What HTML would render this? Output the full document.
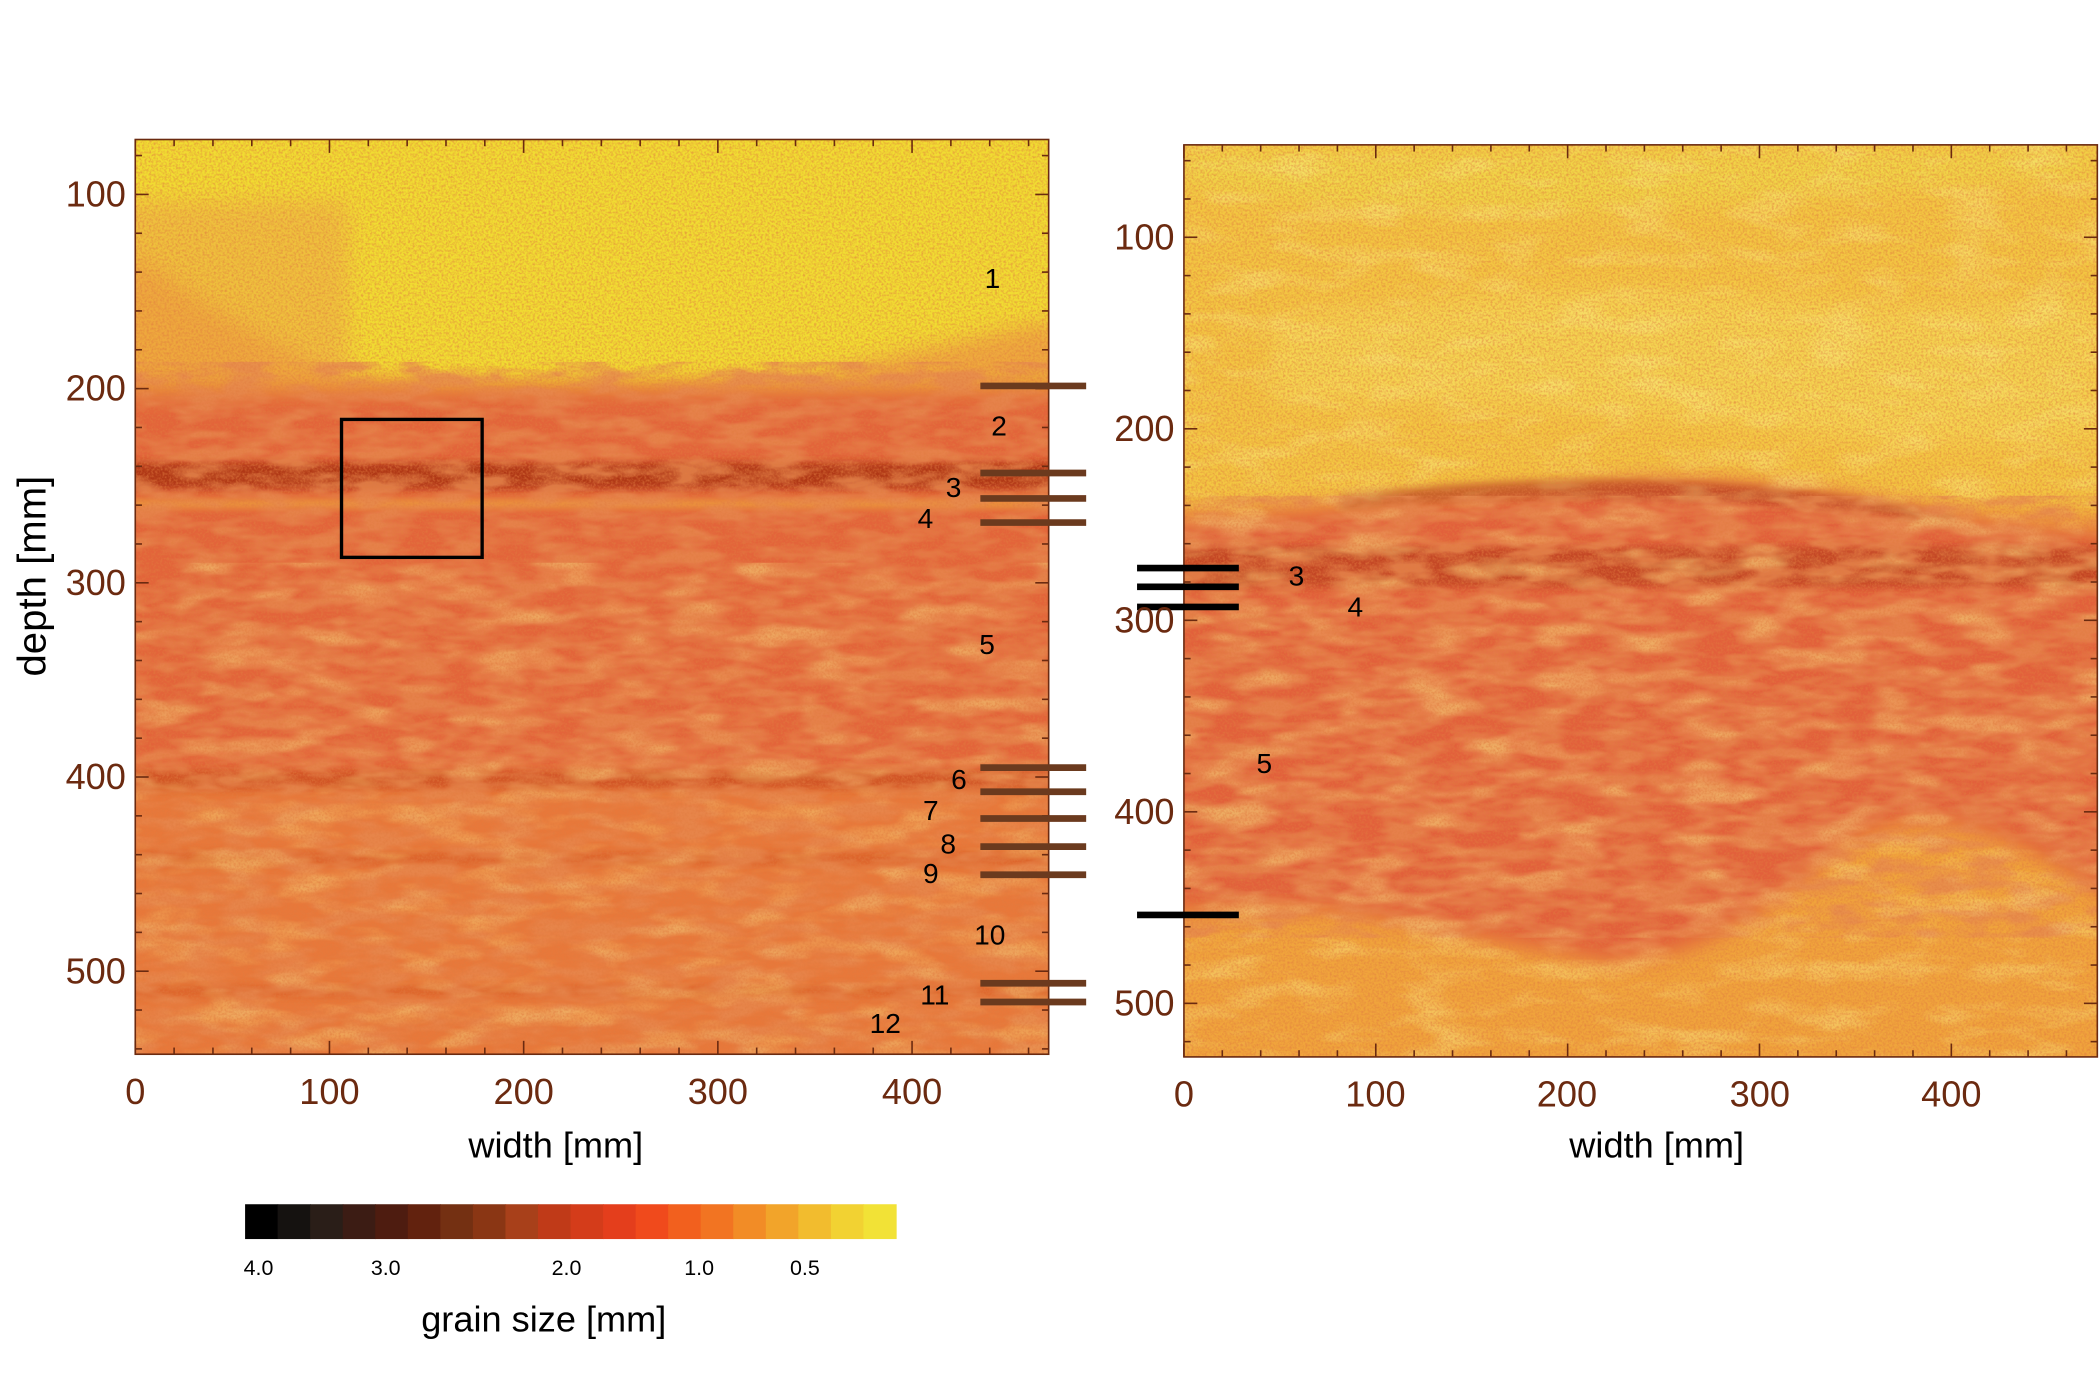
<!DOCTYPE html>
<html><head><meta charset="utf-8"><style>
html,body{margin:0;padding:0;background:#fff;}
svg{display:block;font-family:"Liberation Sans",sans-serif;}
</style></head><body>
<svg id="s" width="2100" height="1400" viewBox="0 0 1568 1045" xmlns="http://www.w3.org/2000/svg">
<defs>
<filter id="speck" x="0" y="0" width="100%" height="100%">
<feTurbulence type="fractalNoise" baseFrequency="0.6" numOctaves="2" seed="3"/>
<feColorMatrix type="matrix" values="0 0 0 0 0.75  0 0 0 0 0.2  0 0 0 0 0.05  0 0 0 -2.2 1.35"/>
<feComposite in2="SourceGraphic" operator="in"/>
</filter>
<filter id="mottle" x="0" y="0" width="100%" height="100%">
<feTurbulence type="fractalNoise" baseFrequency="0.03 0.09" numOctaves="3" seed="7"/>
<feColorMatrix type="matrix" values="0 0 0 0 0.8  0 0 0 0 0.25  0 0 0 0 0.08  0 0 0 -3 1.9"/>
<feComposite in2="SourceGraphic" operator="in"/>
</filter>
<filter id="light" x="0" y="0" width="100%" height="100%">
<feTurbulence type="fractalNoise" baseFrequency="0.02 0.06" numOctaves="3" seed="11"/>
<feColorMatrix type="matrix" values="0 0 0 0 0.97  0 0 0 0 0.85  0 0 0 0 0.25  0 0 0 -3 1.6"/>
<feComposite in2="SourceGraphic" operator="in"/>
</filter>
<filter id="blur6" x="-30%" y="-30%" width="160%" height="160%"><feGaussianBlur stdDeviation="8"/></filter>
<filter id="blur3" x="-10%" y="-100%" width="120%" height="300%"><feGaussianBlur stdDeviation="3"/></filter>
<clipPath id="cl"><rect x="101" y="104" width="682" height="683"/></clipPath>
<clipPath id="cr"><rect x="884" y="108" width="682" height="681"/></clipPath>
</defs>

<!-- LEFT PANEL -->
<g clip-path="url(#cl)">
<rect x="101" y="104" width="682" height="683" fill="#e8783a"/>
<rect x="60" y="60" width="780" height="230" fill="#f1dc33" filter="url(#blur6)"/>
<rect x="60" y="150" width="200" height="130" fill="#efc03c" filter="url(#blur6)"/>
<path d="M60 260 L101 190 Q180 250 260 280 L350 290 L450 290 L600 280 L783 240 L840 290 L60 300Z" fill="#eea83c" filter="url(#blur6)"/>
<rect x="60" y="290" width="780" height="290" fill="#e2603a" opacity="0.8" filter="url(#blur6)"/>
<rect x="60" y="345" width="780" height="20" fill="#b03818" filter="url(#blur3)"/>
<rect x="60" y="373" width="780" height="6" fill="#f0b040" opacity="0.8" filter="url(#blur3)"/>
<rect x="60" y="575" width="780" height="14" fill="#c8481e" opacity="0.7" filter="url(#blur3)"/>
<rect x="60" y="636" width="780" height="10" fill="#d0501e" opacity="0.5" filter="url(#blur3)"/>
<rect x="60" y="736" width="780" height="8" fill="#d0501e" opacity="0.5" filter="url(#blur3)"/>
<rect x="101" y="270" width="682" height="517" fill="#fff" filter="url(#mottle)" opacity="0.8"/>
<rect x="101" y="420" width="682" height="367" fill="#fff" filter="url(#light)" opacity="0.35"/>
<rect x="101" y="104" width="682" height="683" fill="#fff" filter="url(#speck)" opacity="0.6"/>
</g>
<rect x="101" y="104" width="682" height="683" fill="none" stroke="#6b2a10" stroke-width="1.2"/>
<rect x="255" y="313" width="105" height="103" fill="none" stroke="#000" stroke-width="2.5"/>

<!-- RIGHT PANEL -->
<g clip-path="url(#cr)">
<rect x="884" y="108" width="682" height="681" fill="#f0a43c"/>
<rect x="840" y="70" width="770" height="310" fill="#f3c642" filter="url(#blur6)"/>
<path d="M884 140 Q1100 170 1300 150 L1566 130 L1566 110 L884 110Z" fill="#f1d446" filter="url(#blur6)"/>
<path d="M950 240 Q1200 200 1400 230 L1566 220 L1566 330 L1400 330 Q1200 300 950 300Z" fill="#f6dc5a" opacity="0.6" filter="url(#blur6)"/>
<path d="M840 390 Q1100 370 1200 360 Q1300 350 1460 385 L1600 400 L1600 690 Q1460 580 1380 630 Q1280 720 1200 718 Q1100 700 1000 680 L840 680Z" fill="#e2603a" filter="url(#blur6)"/>
<rect x="840" y="408" width="770" height="30" fill="#b83c1a" opacity="0.7" filter="url(#blur3)"/>
<path d="M1000 370 Q1250 340 1460 385 L1460 392 Q1250 360 1000 380Z" fill="#b03a1a" opacity="0.6" filter="url(#blur3)"/>
<rect x="884" y="370" width="682" height="330" fill="#fff" filter="url(#mottle)" opacity="0.8"/>
<rect x="884" y="108" width="682" height="681" fill="#fff" filter="url(#light)" opacity="0.4"/>
<rect x="884" y="108" width="682" height="681" fill="#fff" filter="url(#speck)" opacity="0.6"/>
</g>
<rect x="884" y="108" width="682" height="681" fill="none" stroke="#6b2a10" stroke-width="1.2"/>

<g id="ticks" stroke="#6b2a10" stroke-width="1.2"></g>

<g stroke="#6b3a1e" stroke-width="5">
<line x1="732" x2="811" y1="288" y2="288"/><line x1="732" x2="811" y1="353" y2="353"/>
<line x1="732" x2="811" y1="372" y2="372"/><line x1="732" x2="811" y1="390" y2="390"/>
<line x1="732" x2="811" y1="573" y2="573"/><line x1="732" x2="811" y1="591" y2="591"/>
<line x1="732" x2="811" y1="611" y2="611"/><line x1="732" x2="811" y1="632" y2="632"/>
<line x1="732" x2="811" y1="653" y2="653"/><line x1="732" x2="811" y1="734" y2="734"/>
<line x1="732" x2="811" y1="748" y2="748"/>
</g>
<g stroke="#000" stroke-width="5">
<line x1="849" x2="925" y1="424" y2="424"/><line x1="849" x2="925" y1="438" y2="438"/>
<line x1="849" x2="925" y1="453" y2="453"/><line x1="849" x2="925" y1="683" y2="683"/>
</g>
<g font-size="21" fill="#000" text-anchor="middle">
<text x="741" y="215">1</text><text x="746" y="325">2</text><text x="712" y="371">3</text>
<text x="691" y="394">4</text><text x="737" y="488">5</text><text x="716" y="589">6</text>
<text x="695" y="612">7</text><text x="708" y="637">8</text><text x="695" y="659">9</text>
<text x="739" y="705">10</text><text x="698" y="750">11</text><text x="661" y="771">12</text>
<text x="968" y="437">3</text><text x="1012" y="460">4</text><text x="944" y="577">5</text>
</g>

<g font-size="27" fill="#6b2a10" text-anchor="middle">
<text x="101" y="824">0</text><text x="246" y="824">100</text><text x="391" y="824">200</text>
<text x="536" y="824">300</text><text x="681" y="824">400</text>
<text x="884" y="826">0</text><text x="1027" y="826">100</text><text x="1170" y="826">200</text>
<text x="1314" y="826">300</text><text x="1457" y="826">400</text>
</g>
<g font-size="27" fill="#6b2a10" text-anchor="end">
<text x="94" y="154">100</text><text x="94" y="299">200</text><text x="94" y="444">300</text>
<text x="94" y="589">400</text><text x="94" y="734">500</text>
<text x="877" y="186">100</text><text x="877" y="329">200</text><text x="877" y="472">300</text>
<text x="877" y="615">400</text><text x="877" y="758">500</text>
</g>
<g font-size="27" fill="#000" text-anchor="middle">
<text x="415" y="864">width [mm]</text>
<text x="1237" y="864">width [mm]</text>
<text transform="translate(34,430) rotate(-90)" font-size="30">depth [mm]</text>
<text x="406" y="994">grain size [mm]</text>
</g>

<g id="cbar"></g>
<g font-size="16" fill="#000" text-anchor="middle">
<text x="193" y="952">4.0</text><text x="288" y="952">3.0</text><text x="423" y="952">2.0</text>
<text x="522" y="952">1.0</text><text x="601" y="952">0.5</text>
</g>
</svg>
<script>
var NS="http://www.w3.org/2000/svg";
function ln(g,a,b,c,d){var l=document.createElementNS(NS,"line");l.setAttribute("x1",a);l.setAttribute("y1",b);l.setAttribute("x2",c);l.setAttribute("y2",d);g.appendChild(l);}
var g=document.getElementById("ticks");
function panel(x0,x1,y0,y1,sx,dy0,s){
 for(var v=0;v<=470;v+=20){var x=x0+v*sx;if(x>x1)break;var L=(v%100==0)?10:5;ln(g,x,y1,x,y1-L);ln(g,x,y0,x,y0+L);}
 for(var d=0;d<=600;d+=20){var y=dy0+(d-100)*s;if(y<y0||y>y1)continue;var L=(d%100==0)?10:5;ln(g,x0,y,x0+L,y);ln(g,x1,y,x1-L,y);}
}
panel(101,783,104,787,1.45,145,1.45);
panel(884,1566,108,789,1.4325,177,1.43);
var cols=["#000000","#151210","#2a1e18","#3c1c14","#4e1c10","#62220e","#743012","#8a3614","#a8401a","#c03a18","#d43c1a","#e43e1c","#f04a1c","#f2601e","#f27422","#f28c26","#f2a42a","#f2bc2e","#f2d232","#f2e236"];
var cb=document.getElementById("cbar");var w=(669-183)/20;
for(var i=0;i<20;i++){var r=document.createElementNS(NS,"rect");r.setAttribute("x",183+i*w);r.setAttribute("y",899);r.setAttribute("width",w+0.5);r.setAttribute("height",26);r.setAttribute("fill",cols[i]);cb.appendChild(r);}
</script>
</body></html>
